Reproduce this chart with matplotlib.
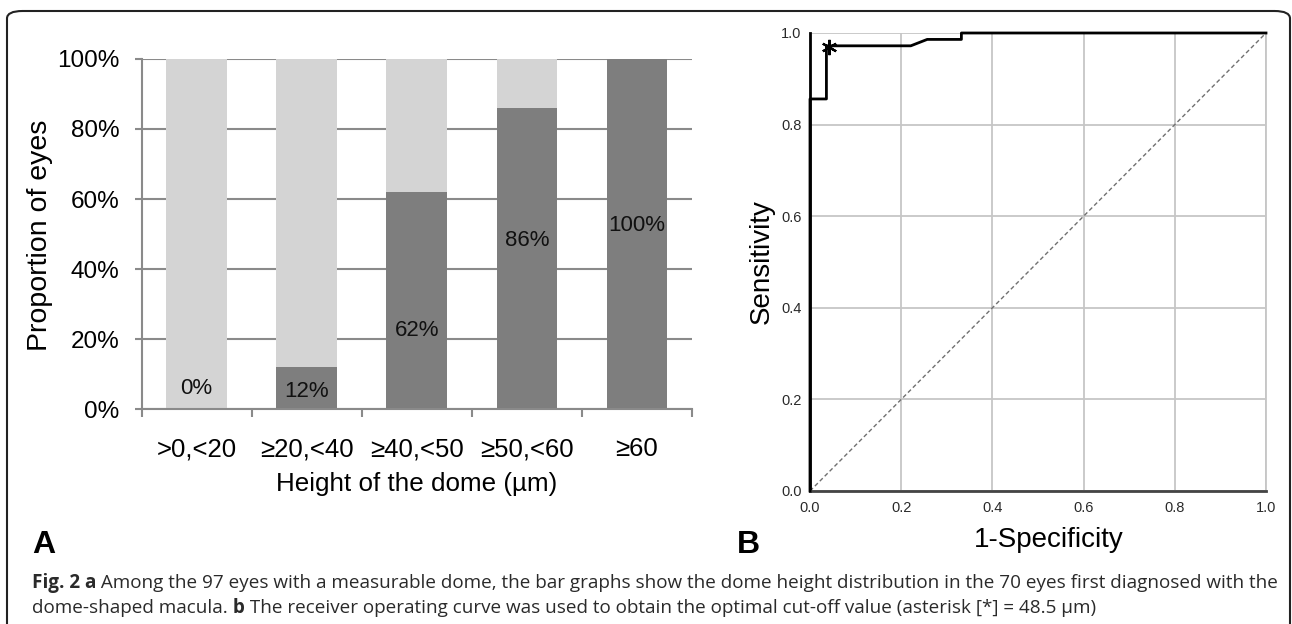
import numpy as np
import matplotlib
matplotlib.use('Agg')
import matplotlib.pyplot as plt
from matplotlib.patches import FancyBboxPatch

plt.rcParams['font.family'] = ['Liberation Sans', 'DejaVu Sans']

# ---- panel A data ----
categories = ['>0,<20', '≥20,<40', '≥40,<50', '≥50,<60', '≥60']
dome_pct = np.array([0, 12, 62, 86, 100])
label_y = [5.8, 5.0, 22.6, 48.3, 52.3]   # where the % labels sit

# ---- panel B data (ROC) ----
fpr = [0.0, 0.0, 0.036, 0.036, 0.221, 0.257, 0.332, 0.332, 1.0]
tpr = [0.0, 0.856, 0.856, 0.972, 0.972, 0.986, 0.986, 1.0, 1.0]
cutoff_fpr = 0.041
cutoff_tpr = 0.970

light = '#d4d4d4'
dark = '#7e7e7e'
axgray = '#8a8a8a'

W, H = 1292, 624
fig = plt.figure(figsize=(W / 100, H / 100), dpi=100)


def fx(px):
    return px / W


def fy(py):
    return 1 - py / H


# ===================== A =====================
axA = fig.add_axes([fx(141.5), fy(409.3), fx(692 - 141.5), (409.3 - 58.8) / H])
x = np.arange(len(categories))
axA.bar(x, 100 - dome_pct, bottom=dome_pct, width=0.55, color=light, zorder=2)
axA.bar(x, dome_pct, width=0.55, color=dark, zorder=2)
for xi, v, ly in zip(x, dome_pct, label_y):
    axA.text(xi, ly, '%d%%' % v, ha='center', va='center', fontsize=16, color='#111', zorder=3)

axA.set_xlim(-0.5, 4.5)
axA.set_ylim(0, 100)
axA.set_yticks(np.arange(0, 101, 20))
axA.set_yticklabels(['%d%%' % t for t in range(0, 101, 20)])
axA.yaxis.grid(True, color=axgray, linewidth=1.5, zorder=1)
axA.set_axisbelow(True)
axA.set_xticks(x)
axA.set_xticklabels(categories)
axA.set_xticks(np.arange(-0.5, 5, 1), minor=True)
axA.tick_params(axis='x', which='major', length=0, pad=20, labelsize=18.5)
axA.tick_params(axis='x', which='minor', length=5.8, width=1.5, color=axgray, direction='out')
axA.tick_params(axis='y', length=5, width=1.5, color=axgray, pad=11, labelsize=17.5)
for s in ['top', 'right']:
    axA.spines[s].set_visible(False)
for s in ['left', 'bottom']:
    axA.spines[s].set_color(axgray)
    axA.spines[s].set_linewidth(1.5)
axA.text(-0.184, 0.495, 'Proportion of eyes', rotation=90, ha='center', va='center',
         fontsize=20.5, transform=axA.transAxes)
axA.text(0.5005, -0.213, 'Height of the dome (µm)', ha='center', va='center',
         fontsize=18.7, transform=axA.transAxes)

# ===================== B =====================
axB = fig.add_axes([fx(810), fy(491), fx(1266 - 810), (491 - 33) / H])
axB.plot([0, 1], [0, 1], color='#707070', linewidth=1, dashes=(3, 2), zorder=2)
axB.plot(fpr, tpr, color='black', linewidth=2, zorder=3, clip_on=False)
axB.plot([cutoff_fpr], [cutoff_tpr], marker=(6, 2, 0), markersize=11,
         markeredgewidth=1.6, color='black', zorder=4, clip_on=False)
axB.set_xlim(0, 1)
axB.set_ylim(0, 1)
ticks = np.arange(0, 1.01, 0.2)
axB.set_xticks(ticks)
axB.set_yticks(ticks)
axB.set_xticklabels(['%.1f' % t for t in ticks])
axB.set_yticklabels(['%.1f' % t for t in ticks])
axB.grid(True, color='#c6c6c6', linewidth=1.3, zorder=1)
axB.set_axisbelow(True)
axB.tick_params(length=0, labelsize=10.5, colors='#2a2a2a')
axB.tick_params(axis='x', pad=7)
axB.tick_params(axis='y', pad=6)
axB.spines['top'].set_visible(False)
axB.spines['right'].set_color('#c6c6c6')
axB.spines['right'].set_linewidth(1.3)
axB.spines['left'].set_color('black')
axB.spines['left'].set_linewidth(2)
axB.spines['bottom'].set_color('#444444')
axB.spines['bottom'].set_linewidth(2)
axB.text(-0.105, 0.5, 'Sensitivity', rotation=90, ha='center', va='center',
         fontsize=20, transform=axB.transAxes)
axB.text(0.524, -0.107, '1-Specificity', ha='center', va='center',
         fontsize=20, transform=axB.transAxes)

# panel letters
fig.text(fx(32), fy(553), 'A', fontsize=23, fontweight='bold', va='baseline')
fig.text(fx(737), fy(553), 'B', fontsize=23, fontweight='bold', va='baseline')

# frame
frame = FancyBboxPatch((fx(7), -0.2), fx(1290 - 7), fy(11) + 0.2,
                       boxstyle='round,pad=0,rounding_size=0.012',
                       transform=fig.transFigure, fill=False,
                       edgecolor='#222222', linewidth=1.5, clip_on=False)
fig.patches.append(frame)


# caption, bold and normal runs side by side
def put_runs(x0, y0, runs, size):
    renderer = fig.canvas.get_renderer()
    xx = x0
    for s, weight in runs:
        t = fig.text(xx, y0, s, fontsize=size, fontweight=weight,
                     family=['Open Sans', 'DejaVu Sans'], va='baseline', color='#2a2a2a')
        bb = t.get_window_extent(renderer)
        xx = bb.x1 / fig.bbox.width


put_runs(fx(32), fy(588), [
    ('Fig. 2 a', 'bold'),
    (' Among the 97 eyes with a measurable dome, the bar graphs show the dome height '
     'distribution in the 70 eyes first diagnosed with the', 'normal')], 13.6)
put_runs(fx(32), fy(613), [
    ('dome-shaped macula.', 'normal'),
    (' b', 'bold'),
    (' The receiver operating curve was used to obtain the optimal cut-off value '
     '(asterisk [*] = 48.5 µm)', 'normal')], 13.6)

fig.savefig('out.png', dpi=100)
